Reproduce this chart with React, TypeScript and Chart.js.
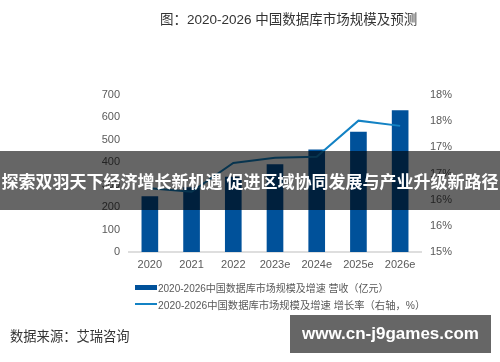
import React, { useEffect, useRef } from 'react';
import { Chart, registerables } from 'chart.js';

Chart.register(...registerables);

const categories = ['2020', '2021', '2022', '2023e', '2024e', '2025e', '2026e'];
const revenue = [247, 287, 334, 390, 455, 535, 630];
const growthRate = [16.22, 16.15, 16.7, 16.8, 16.82, 17.51, 17.41];
const rightTickLabels = ['15%', '16%', '16%', '17%', '17%', '18%', '18%'];

const title = '图：2020-2026 中国数据库市场规模及预测';
const legendBar = '2020-2026中国数据库市场规模及增速 营收（亿元）';
const legendLine = '2020-2026中国数据库市场规模及增速 增长率（右轴，%）';
const sourceText = '数据来源：艾瑞咨询';
const bannerText = '探索双羽天下经济增长新机遇 促进区域协同发展与产业升级新路径';
const watermark = 'www.cn-j9games.com';

const BAR_COLOR = '#00519a';
const LINE_COLOR = '#1382c4';
const FONT = '"Liberation Sans", "Noto Sans CJK SC", sans-serif';
const TICK_COLOR = '#595959';

export default function App() {
  const ref = useRef<HTMLCanvasElement | null>(null);

  useEffect(() => {
    if (!ref.current) return;
    const chart = new Chart(ref.current, {
      data: {
        labels: categories,
        datasets: [
          {
            type: 'line',
            label: legendLine,
            data: growthRate,
            yAxisID: 'y1',
            borderColor: LINE_COLOR,
            borderWidth: 2,
            pointRadius: 0,
            tension: 0,
            order: 0,
          },
          {
            type: 'bar',
            label: legendBar,
            data: revenue,
            yAxisID: 'y',
            backgroundColor: BAR_COLOR,
            barThickness: 16,
            order: 1,
          },
        ],
      } as any,
      options: {
        responsive: false,
        animation: false,
        layout: { padding: { top: 95, bottom: 90, left: 0, right: 0 } },
        plugins: { legend: { display: false }, tooltip: { enabled: false } },
        scales: {
          x: {
            grid: { display: false, drawTicks: false },
            border: { display: true, color: '#dedede', width: 2 },
            ticks: { color: TICK_COLOR, font: { family: FONT, size: 11 }, padding: 6 },
            afterFit: (s: any) => { s.height = 20; },
          },
          y: {
            position: 'left',
            min: 0,
            max: 700,
            grid: { display: false, drawTicks: false },
            border: { display: false },
            ticks: { stepSize: 100, color: TICK_COLOR, font: { family: FONT, size: 11 }, padding: 9 },
            afterFit: (s: any) => { s.width = 129; },
          },
          y1: {
            position: 'right',
            min: 15,
            max: 18,
            grid: { display: false, drawTicks: false },
            border: { display: false },
            ticks: {
              stepSize: 0.5,
              color: TICK_COLOR,
              font: { family: FONT, size: 11 },
              padding: 9,
              callback: (_v: any, i: number) => rightTickLabels[i],
            },
            afterFit: (s: any) => { s.width = 79; },
          },
        },
      } as any,
    });
    return () => chart.destroy();
  }, []);

  const abs = (o: React.CSSProperties): React.CSSProperties => ({ position: 'absolute', whiteSpace: 'nowrap', ...o });

  return (
    <div style={{ position: 'fixed', left: 0, top: 0, width: 500, height: 362, background: '#fff', overflow: 'hidden', fontFamily: FONT }}>
      <canvas ref={ref} width={500} height={362} style={{ position: 'absolute', left: 0, top: 0, width: 500, height: 362 }} />
      <div style={abs({ left: 160, top: 11, fontSize: 13.5, lineHeight: '18px', color: '#333' })}>{title}</div>
      <div style={abs({ left: 135, top: 280, height: 14, display: 'flex', alignItems: 'center', fontSize: 10, color: TICK_COLOR })}>
        <span style={{ display: 'inline-block', width: 22, height: 5, background: BAR_COLOR, marginRight: 1 }} />
        <span>{legendBar}</span>
      </div>
      <div style={abs({ left: 135, top: 297, height: 14, display: 'flex', alignItems: 'center', fontSize: 10.3, color: TICK_COLOR })}>
        <span style={{ display: 'inline-block', width: 22, height: 2, background: LINE_COLOR, marginRight: 1 }} />
        <span>{legendLine}</span>
      </div>
      <div style={abs({ left: 10, top: 328, fontSize: 13.3, lineHeight: '18px', color: '#333' })}>{sourceText}</div>
      <div style={abs({ left: 0, top: 151, width: 500, height: 59, background: 'rgba(0,0,0,0.6)', color: '#fff', fontWeight: 'bold', fontSize: 17, lineHeight: '59px', textAlign: 'center', fontFamily: '"Noto Sans CJK SC", sans-serif' })}>{bannerText}</div>
      <div style={abs({ left: 290, top: 315, width: 201, height: 38, background: 'rgba(0,0,0,0.6)', color: '#fff', fontWeight: 'bold', fontSize: 17, lineHeight: '38px', textAlign: 'center', fontFamily: '"Liberation Sans", sans-serif' })}>{watermark}</div>
    </div>
  );
}
